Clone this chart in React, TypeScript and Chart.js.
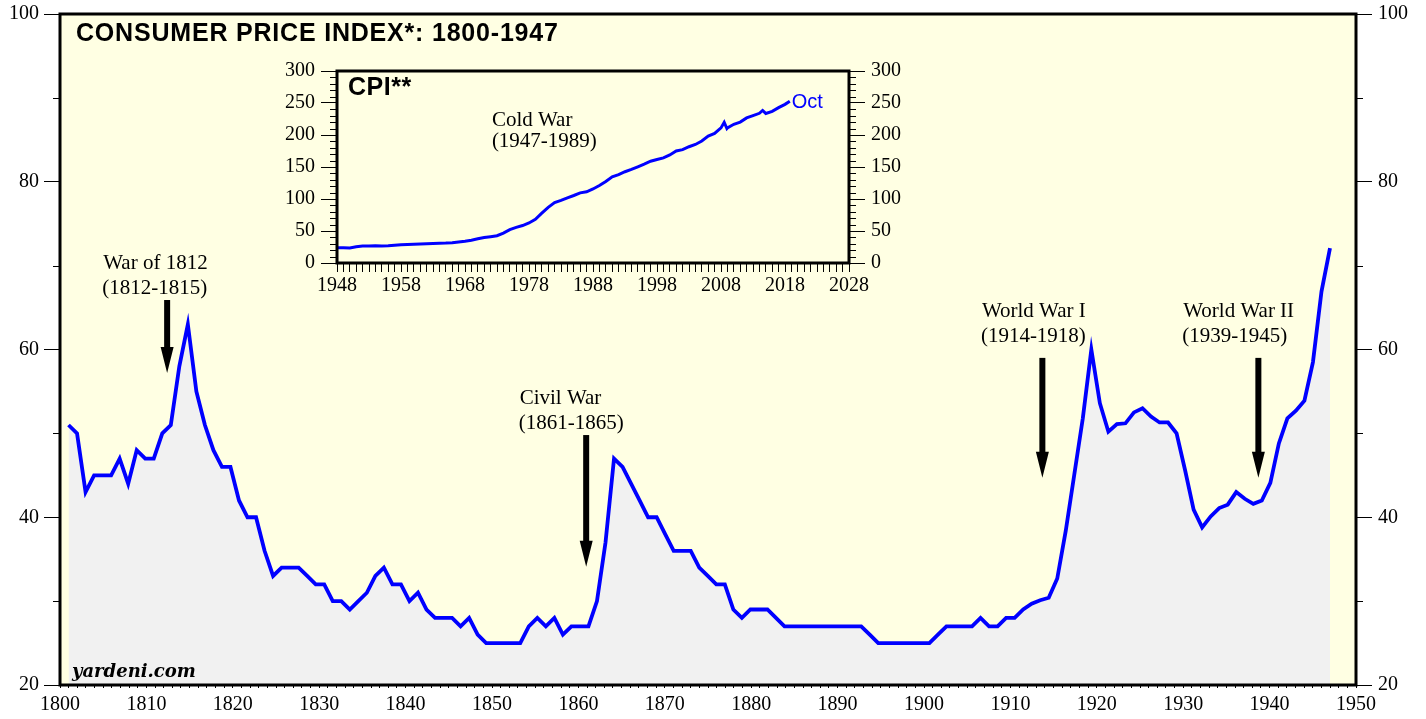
import React, { useEffect, useRef } from 'react';
import { Chart, registerables } from 'chart.js';
Chart.register(...registerables);

// ---------- Main series: CPI 1800-1948 (1967=100) ----------
const histStartYear = 1800;
const histValues: number[] = [
  51, 50, 43, 45, 45, 45, 47, 44, 48, 47, // 1800-1809
  47, 50, 51, 58, 63, 55, 51, 48, 46, 46, // 1810-1819
  42, 40, 40, 36, 33, 34, 34, 34, 33, 32, // 1820-1829
  32, 30, 30, 29, 30, 31, 33, 34, 32, 32, // 1830-1839
  30, 31, 29, 28, 28, 28, 27, 28, 26, 25, // 1840-1849
  25, 25, 25, 25, 27, 28, 27, 28, 26, 27, // 1850-1859
  27, 27, 30, 37, 47, 46, 44, 42, 40, 40, // 1860-1869
  38, 36, 36, 36, 34, 33, 32, 32, 29, 28, // 1870-1879
  29, 29, 29, 28, 27, 27, 27, 27, 27, 27, // 1880-1889
  27, 27, 27, 27, 26, 25, 25, 25, 25, 25, // 1890-1899
  25, 25, 26, 27, 27, 27, 27, 28, 27, 27, // 1900-1909
  28, 28, 29, 29.7, 30.1, 30.4, 32.7, 38.4, 45.1, 51.8, // 1910-1919
  60.0, 53.6, 50.2, 51.1, 51.2, 52.5, 53.0, 52.0, 51.3, 51.3, // 1920-1929
  50.0, 45.6, 40.9, 38.8, 40.1, 41.1, 41.5, 43.0, 42.2, 41.6, // 1930-1939
  42.0, 44.1, 48.8, 51.8, 52.7, 53.9, 58.5, 66.9, 72.1, // 1940-1948
];
const histYears: number[] = histValues.map((_, i) => histStartYear + i);

// main axis ticks
const mainYMinor: number[] = [30, 50, 70, 90];

// war annotations
const warNames: string[] = ['War of 1812', 'Civil War', 'World War I', 'World War II'];
const warPeriods: string[] = ['(1812-1815)', '(1861-1865)', '(1914-1918)', '(1939-1945)'];
const warTextYear: number[] = [1805.0, 1853.2, 1906.7, 1930.0];
const warTextValue: number[] = [70.3, 54.2, 64.5, 64.5];
const warArrowYear: number[] = [1812.4, 1860.9, 1913.7, 1938.7];
const warArrowTop: number[] = [65.9, 49.8, 59.0, 59.0];
const warArrowTip: number[] = [57.2, 34.1, 44.7, 44.7];

// ---------- Inset series: CPI 1948-2018 ----------
const cpiYears: number[] = [
  1948, 1949, 1950, 1951, 1952, 1953, 1954, 1955, 1956, 1957,
  1958, 1959, 1960, 1961, 1962, 1963, 1964, 1965, 1966, 1967,
  1968, 1969, 1970, 1971, 1972, 1973, 1974, 1975, 1976, 1977,
  1978, 1979, 1980, 1981, 1982, 1983, 1984, 1985, 1986, 1987,
  1988, 1989, 1990, 1991, 1992, 1993, 1994, 1995, 1996, 1997,
  1998, 1999, 2000, 2001, 2002, 2003, 2004, 2005, 2006, 2007,
  2008, 2008.5, 2008.92, 2009, 2010, 2011, 2012, 2013, 2014, 2014.5,
  2015, 2016, 2017, 2018, 2018.75,
];
const cpiValues: number[] = [
  23.7, 24.0, 23.5, 25.4, 26.5, 26.6, 26.9, 26.7, 26.8, 27.6,
  28.6, 29.0, 29.3, 29.8, 30.0, 30.4, 30.9, 31.2, 31.8, 32.9,
  34.1, 35.6, 37.8, 39.8, 41.1, 42.6, 46.6, 52.1, 55.6, 58.5,
  62.5, 68.3, 77.8, 87.0, 94.3, 97.8, 101.9, 105.5, 109.6, 111.2,
  115.7, 121.1, 127.4, 134.6, 138.1, 142.6, 146.2, 150.3, 154.4, 159.1,
  161.6, 164.3, 168.8, 175.1, 177.1, 181.7, 185.2, 190.7, 198.3, 202.4,
  211.1, 219.9, 210.2, 211.1, 216.7, 220.2, 226.7, 230.3, 233.9, 238.3,
  233.7, 236.9, 242.8, 247.9, 252.9,
];
const insetYMinor: number[] = [10, 20, 30, 40, 60, 70, 80, 90, 110, 120, 130, 140, 160, 170, 180, 190, 210, 220, 230, 240, 260, 270, 280, 290];
const insetNoteLines: string[] = ['Cold War', '(1947-1989)'];
const insetNoteYear = 1972.2;
const insetNoteValue = 223.4;
const lastLabel = 'Oct';

const SERIF = '"Liberation Serif", "Times New Roman", serif';
const SANS = '"Liberation Sans", Arial, Helvetica, sans-serif';
const BG = '#FFFFE3';
const FILL = '#F1F1F1';
const BLUE = '#0000FF';

Chart.defaults.font.family = SERIF;
Chart.defaults.color = '#000';

function drawArrow(ctx: CanvasRenderingContext2D, x: number, yTop: number, yTip: number) {
  const headLen = 26, headW = 13, shaftW = 6;
  ctx.fillStyle = '#000';
  ctx.fillRect(x - shaftW / 2, yTop, shaftW, yTip - headLen - yTop + 2);
  ctx.beginPath();
  ctx.moveTo(x - headW / 2, yTip - headLen);
  ctx.lineTo(x + headW / 2, yTip - headLen);
  ctx.lineTo(x, yTip);
  ctx.closePath();
  ctx.fill();
}

function MainChart() {
  const ref = useRef<HTMLCanvasElement>(null);
  useEffect(() => {
    const decor = {
      id: 'decor',
      beforeDraw(chart: any) {
        const { ctx, chartArea: a } = chart;
        ctx.save();
        ctx.fillStyle = BG;
        ctx.fillRect(a.left, a.top, a.right - a.left, a.bottom - a.top);
        ctx.restore();
      },
      afterDraw(chart: any) {
        const { ctx, chartArea: a } = chart;
        const sx = chart.scales.x;
        const sy = chart.scales.y;
        ctx.save();
        // minor y ticks
        ctx.strokeStyle = '#000';
        ctx.lineWidth = 1;
        mainYMinor.forEach((v) => {
          const p = Math.round(sy.getPixelForValue(v)) + 0.5;
          ctx.beginPath();
          ctx.moveTo(a.left - 7, p); ctx.lineTo(a.left, p);
          ctx.moveTo(a.right, p); ctx.lineTo(a.right + 7, p);
          ctx.stroke();
        });
        // frame
        ctx.lineWidth = 3;
        ctx.strokeRect(a.left, a.top, a.right - a.left, a.bottom - a.top);
        // annotations
        ctx.fillStyle = '#000';
        ctx.font = `21px ${SERIF}`;
        ctx.textAlign = 'left';
        ctx.textBaseline = 'middle';
        warNames.forEach((name, i) => {
          const tx = sx.getPixelForValue(warTextYear[i]);
          const ty = sy.getPixelForValue(warTextValue[i]);
          ctx.fillText(name, tx, ty);
          ctx.fillText(warPeriods[i], tx - 1, ty + 25);
          drawArrow(ctx, sx.getPixelForValue(warArrowYear[i]), sy.getPixelForValue(warArrowTop[i]), sy.getPixelForValue(warArrowTip[i]));
        });
        // title
        ctx.font = `bold 25px ${SANS}`;
        (ctx as any).letterSpacing = '0.8px';
        ctx.fillText('CONSUMER PRICE INDEX*: 1800-1947', a.left + 16, a.top + 20);
        (ctx as any).letterSpacing = '0px';
        // source
        ctx.font = `italic bold 18px "DejaVu Serif", serif`;
        ctx.textBaseline = 'alphabetic';
        ctx.fillText('yardeni.com', a.left + 12, a.bottom - 8);
        ctx.restore();
      },
    };
    const yCommon = (pos: 'left' | 'right', width: number, pad: number) => ({
      type: 'linear' as const,
      position: pos,
      min: 20,
      max: 100,
      ticks: { stepSize: 20, padding: pad, color: '#000', font: { family: SERIF, size: 20, lineHeight: 0.8 } },
      grid: { drawOnChartArea: false, tickLength: 16, tickColor: '#000', tickWidth: 1 },
      border: { display: false },
      afterFit: (s: any) => { s.width = width; },
    });
    const chart = new Chart(ref.current as HTMLCanvasElement, {
      type: 'line',
      data: {
        datasets: [{
          data: histYears.map((x, i) => ({ x, y: histValues[i] })),
          xAxisID: 'xd',
          yAxisID: 'y',
          borderColor: BLUE,
          borderWidth: 3.8,
          backgroundColor: FILL,
          fill: 'start',
          pointRadius: 0,
          tension: 0,
          borderJoinStyle: 'miter',
        }],
      },
      options: {
        animation: false,
        responsive: false,
        events: [],
        layout: { padding: { top: 14, left: 0, right: 0, bottom: 0 } },
        plugins: { legend: { display: false }, tooltip: { enabled: false }, title: { display: false } },
        scales: {
          x: {
            type: 'linear', position: 'bottom', min: 1800, max: 1950,
            ticks: {
              stepSize: 1, autoSkip: false, maxRotation: 0, minRotation: 0, padding: 5,
              color: '#000', font: { family: SERIF, size: 20 },
              callback: (v: any) => (Number(v) % 10 === 0 ? String(v) : ''),
            },
            grid: { drawOnChartArea: false, tickLength: 3, tickColor: '#000', tickWidth: 1 },
            border: { display: false },
            afterFit: (s: any) => { s.height = 34; },
          },
          xd: { type: 'linear', axis: 'x', position: 'bottom', display: false, min: 1799.0, max: 1951.05 },
          y: yCommon('left', 60, 5),
          y2: yCommon('right', 70, 6),
        },
      } as any,
      plugins: [decor],
    });
    return () => chart.destroy();
  }, []);
  return <canvas ref={ref} width={1426} height={719} style={{ position: 'absolute', left: 0, top: 0 }} />;
}

function InsetChart() {
  const ref = useRef<HTMLCanvasElement>(null);
  useEffect(() => {
    const decor = {
      id: 'insetDecor',
      beforeDraw(chart: any) {
        const { ctx, chartArea: a } = chart;
        ctx.save();
        ctx.fillStyle = BG;
        ctx.fillRect(a.left, a.top, a.right - a.left, a.bottom - a.top);
        ctx.restore();
      },
      afterDraw(chart: any) {
        const { ctx, chartArea: a } = chart;
        const sx = chart.scales.x;
        const sy = chart.scales.y;
        ctx.save();
        ctx.strokeStyle = '#000';
        ctx.lineWidth = 1;
        insetYMinor.forEach((v) => {
          const p = Math.round(sy.getPixelForValue(v)) + 0.5;
          ctx.beginPath();
          ctx.moveTo(a.left - 7, p); ctx.lineTo(a.left, p);
          ctx.moveTo(a.right, p); ctx.lineTo(a.right + 7, p);
          ctx.stroke();
        });
        ctx.lineWidth = 3;
        ctx.strokeRect(a.left, a.top, a.right - a.left, a.bottom - a.top);
        ctx.fillStyle = '#000';
        ctx.textAlign = 'left';
        ctx.textBaseline = 'middle';
        ctx.font = `bold 25px ${SANS}`;
        (ctx as any).letterSpacing = '0.5px';
        ctx.fillText('CPI**', a.left + 11, a.top + 17);
        (ctx as any).letterSpacing = '0px';
        ctx.font = `21px ${SERIF}`;
        const nx = sx.getPixelForValue(insetNoteYear);
        const ny = sy.getPixelForValue(insetNoteValue);
        insetNoteLines.forEach((t, i) => ctx.fillText(t, nx, ny + i * 21));
        // end label
        const lx = sx.getPixelForValue(cpiYears[cpiYears.length - 1]);
        const ly = sy.getPixelForValue(cpiValues[cpiValues.length - 1]);
        ctx.fillStyle = BLUE;
        ctx.font = `20px ${SANS}`;
        ctx.fillText(lastLabel, lx + 2, ly + 1);
        ctx.restore();
      },
    };
    const yCommon = (pos: 'left' | 'right', width: number, pad: number) => ({
      type: 'linear' as const,
      position: pos,
      min: 0,
      max: 300,
      ticks: { stepSize: 50, padding: pad, color: '#000', font: { family: SERIF, size: 20, lineHeight: 0.8 } },
      grid: { drawOnChartArea: false, tickLength: 16, tickColor: '#000', tickWidth: 1 },
      border: { display: false },
      afterFit: (s: any) => { s.width = width; },
    });
    const chart = new Chart(ref.current as HTMLCanvasElement, {
      type: 'line',
      data: {
        datasets: [{
          data: cpiYears.map((x, i) => ({ x, y: cpiValues[i] })),
          xAxisID: 'x',
          yAxisID: 'y',
          borderColor: BLUE,
          borderWidth: 3,
          fill: false,
          pointRadius: 0,
          tension: 0,
        }],
      },
      options: {
        animation: false,
        responsive: false,
        events: [],
        layout: { padding: { top: 16, left: 0, right: 0, bottom: 0 } },
        plugins: { legend: { display: false }, tooltip: { enabled: false }, title: { display: false } },
        scales: {
          x: {
            type: 'linear', position: 'bottom', min: 1948, max: 2028,
            ticks: {
              stepSize: 1, autoSkip: false, maxRotation: 0, minRotation: 0, padding: 2,
              color: '#000', font: { family: SERIF, size: 20 },
              callback: (v: any) => ((Number(v) - 1948) % 10 === 0 ? String(v) : ''),
            },
            grid: { drawOnChartArea: false, tickLength: 9, tickColor: '#000', tickWidth: 1 },
            border: { display: false },
            afterFit: (s: any) => { s.height = 42; },
          },
          y: yCommon('left', 57, 6),
          y2: yCommon('right', 71, 6),
        },
      } as any,
      plugins: [decor],
    });
    return () => chart.destroy();
  }, []);
  return <canvas ref={ref} width={640} height={250} style={{ position: 'absolute', left: 280, top: 55 }} />;
}

export default function App() {
  return (
    <div style={{ position: 'fixed', left: 0, top: 0, width: 1426, height: 719, background: '#fff', overflow: 'hidden' }}>
      <MainChart />
      <InsetChart />
    </div>
  );
}
